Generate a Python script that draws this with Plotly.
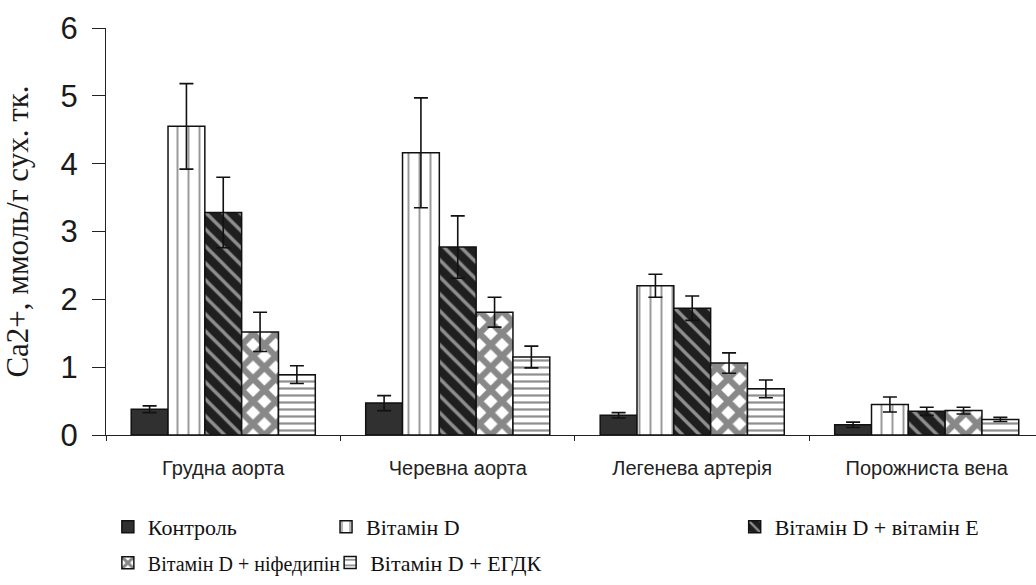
import plotly.graph_objects as go

# Vessel groups on the x axis
categories = ["Грудна аорта", "Черевна аорта", "Легенева артерія", "Порожниста вена"]

# Ca2+ content (mmol/g dry tissue) per treatment group: mean and error
control = [0.38, 0.47, 0.29, 0.15]
control_err = [0.05, 0.11, 0.04, 0.04]
vit_d = [4.55, 4.16, 2.20, 0.45]
vit_d_err = [0.63, 0.81, 0.17, 0.11]
vit_d_e = [3.28, 2.77, 1.87, 0.35]
vit_d_e_err = [0.52, 0.46, 0.18, 0.06]
vit_d_nif = [1.52, 1.81, 1.06, 0.36]
vit_d_nif_err = [0.29, 0.22, 0.15, 0.05]
vit_d_egdk = [0.89, 1.15, 0.68, 0.23]
vit_d_egdk_err = [0.13, 0.16, 0.13, 0.03]

series_names = [
    "Контроль",
    "Вітамін D",
    "Вітамін D + вітамін E",
    "Вітамін D + ніфедипін",
    "Вітамін D + ЕГДК",
]
series_values = [control, vit_d, vit_d_e, vit_d_nif, vit_d_egdk]
series_errors = [control_err, vit_d_err, vit_d_e_err, vit_d_nif_err, vit_d_egdk_err]

patterns = [
    dict(shape="", bgcolor="#303030"),
    dict(shape="|", bgcolor="white", fgcolor="#333333", size=11, solidity=0.18),
    dict(shape="\\", bgcolor="#1f1f1f", fgcolor="white", size=12, solidity=0.28),
    dict(shape="x", bgcolor="white", fgcolor="#111111", size=16, solidity=0.62),
    dict(shape="-", bgcolor="white", fgcolor="#1f1f1f", size=7, solidity=0.32),
]
fill_colors = ["#303030", "white", "#1f1f1f", "white", "white"]

legend_ids = ["legend", "legend2", "legend3", "legend4", "legend5"]

SERIF = "Liberation Serif"
SANS = "Liberation Sans"

fig = go.Figure()
for name, vals, errs, pat, col, lg in zip(series_names, series_values, series_errors,
                                           patterns, fill_colors, legend_ids):
    fig.add_trace(go.Bar(
        x=categories, y=vals, name=name, legend=lg, showlegend=True,
        marker=dict(color=col, line=dict(color="#111111", width=1.5), pattern=pat),
        error_y=dict(type="data", array=errs, visible=True,
                     color="#111111", thickness=1.6, width=7),
    ))


def legend_at(x, y, size=22):
    return dict(orientation="h", xanchor="left", yanchor="middle", x=x, y=y,
                bgcolor="rgba(0,0,0,0)", itemclick=False, visible=True,
                font=dict(family=SERIF, size=size, color="#111111"))


fig.update_layout(
    width=1036, height=585,
    margin=dict(l=106, r=0, t=28, b=150),
    paper_bgcolor="white", plot_bgcolor="white",
    font=dict(family=SERIF, color="#111111"),
    showlegend=True,
    barmode="group", bargap=0.215, bargroupgap=0,
    legend=legend_at(0.002, -0.226),
    legend2=legend_at(0.2366, -0.226),
    legend3=legend_at(0.676, -0.226),
    legend4=legend_at(0.002, -0.314, size=20),
    legend5=legend_at(0.241, -0.314),
    xaxis=dict(
        range=[-0.5, 3.466], showline=True, linecolor="#222222", linewidth=1.3,
        ticks="outside", tickson="boundaries", ticklen=5, tickcolor="#222222",
        showgrid=False, zeroline=False, ticklabelstandoff=15,
        tickfont=dict(family=SANS, size=20, color="#222222"),
    ),
    yaxis=dict(
        range=[0, 6], dtick=1, showline=True, linecolor="#222222", linewidth=1.3,
        ticks="outside", ticklen=13, tickcolor="#222222", showgrid=False, zeroline=False,
        ticklabelstandoff=8,
        tickfont=dict(family=SANS, size=31, color="#1a1a1a"),
        title=dict(text="Ca2+, ммоль/г сух. тк.", standoff=31,
                   font=dict(family=SERIF, size=31, color="#1a1a1a")),
    ),
)

fig.write_html("out.html")
